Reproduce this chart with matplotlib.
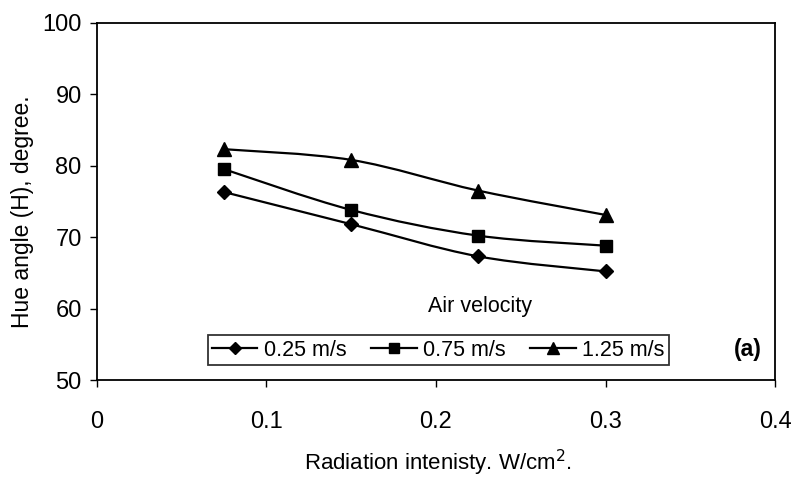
import numpy as np
import matplotlib.pyplot as plt
from matplotlib.path import Path
from matplotlib.patches import PathPatch
from matplotlib.lines import Line2D

plt.rcParams['font.family'] = ['Liberation Sans', 'DejaVu Sans']

# data
radiation = [0.075, 0.15, 0.225, 0.3]
hue_025 = [76.3, 71.8, 67.3, 65.2]
hue_075 = [79.5, 73.8, 70.2, 68.8]
hue_125 = [82.3, 80.8, 76.5, 73.1]
labels = ['0.25 m/s', '0.75 m/s', '1.25 m/s']
markers = ['D', 's', '^']
msizes = [7.5, 8.5, 9.5]


def smooth_path(x, y, t=1 / 6):
    # Excel-like smoothed line as cubic bezier through the points
    x = np.asarray(x, float)
    y = np.asarray(y, float)
    verts = [(x[0], y[0])]
    codes = [Path.MOVETO]
    n = len(x)
    for i in range(n - 1):
        p0 = np.array([x[max(i - 1, 0)], y[max(i - 1, 0)]])
        p1 = np.array([x[i], y[i]])
        p2 = np.array([x[i + 1], y[i + 1]])
        p3 = np.array([x[min(i + 2, n - 1)], y[min(i + 2, n - 1)]])
        c1 = p1 + (p2 - p0) * t
        c2 = p2 - (p3 - p1) * t
        verts += [tuple(c1), tuple(c2), tuple(p2)]
        codes += [Path.CURVE4] * 3
    return Path(verts, codes)


fig = plt.figure(figsize=(7.97, 4.8), dpi=100)
ax = fig.add_axes([0.1217, 0.2083, 0.8507, 0.7444])

handles = []
for ys, lab, mk, ms in zip([hue_025, hue_075, hue_125], labels, markers, msizes):
    ax.add_patch(PathPatch(smooth_path(radiation, ys), fill=False,
                           edgecolor='black', lw=1.6))
    ax.plot(radiation, ys, linestyle='none', marker=mk, ms=ms, color='black')
    handles.append(Line2D([], [], color='black', lw=1.6, marker=mk, ms=ms - 1))

ax.set_xlim(0, 0.4)
ax.set_ylim(50, 100)
ax.set_xticks([0, 0.1, 0.2, 0.3, 0.4])
ax.set_xticklabels(['0', '0.1', '0.2', '0.3', '0.4'])
ax.set_yticks([50, 60, 70, 80, 90, 100])
ax.tick_params(direction='out', length=5, width=1, labelsize=17)
ax.tick_params(axis='x', pad=17)
ax.tick_params(axis='y', pad=6)
for sp in ax.spines.values():
    sp.set_linewidth(1.3)

ax.set_ylabel('Hue angle (H), degree.', fontsize=16.5)
ax.yaxis.set_label_coords(-0.093, 0.47)
fig.text(0.549, 0.02, 'Radiation intenisty. W/cm$^2$.', fontsize=16,
         ha='center', va='baseline')

ax.text(480, 168, 'Air velocity', fontsize=15.5, ha='center', va='baseline',
        transform=None)
ax.text(0.981, 0.085, '(a)', fontsize=16.5, fontweight='bold',
        transform=ax.transAxes, ha='right', va='center')

leg = ax.legend(handles, labels, ncol=3, loc='lower left',
                bbox_to_anchor=(0.1637, 0.042), fontsize=15.5, frameon=True,
                fancybox=False, handlelength=2.1, handletextpad=0.3,
                columnspacing=1.15, borderpad=0.2, borderaxespad=0,
                handleheight=0.6, labelspacing=0.1)
leg.get_frame().set_edgecolor('black')
leg.get_frame().set_linewidth(1.3)

fig.savefig('out.png', dpi=100)
